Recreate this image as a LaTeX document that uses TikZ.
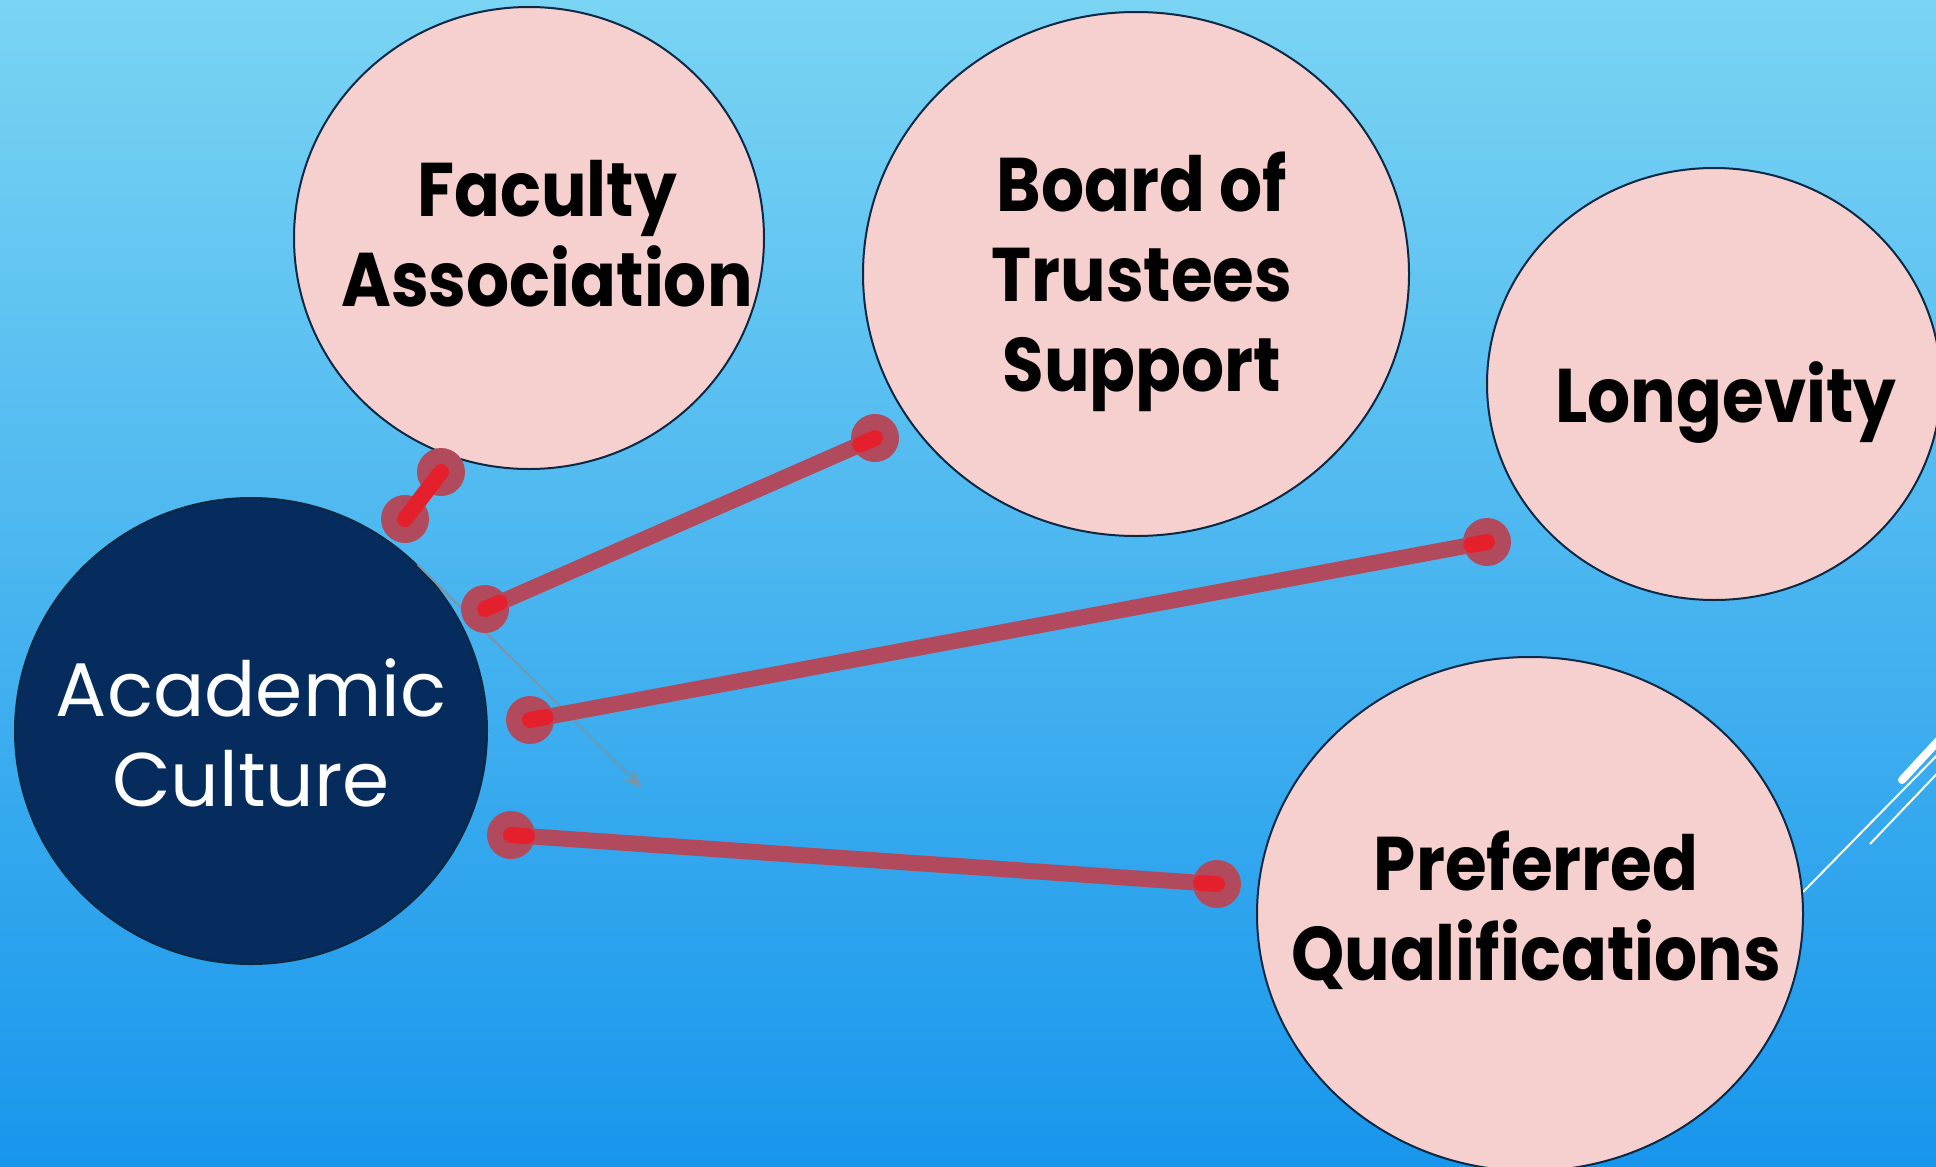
\documentclass[tikz,border=0pt]{standalone}
\usepackage{fontspec}
\setmainfont{Poppins}
\newfontfamily\bubblefont{Poppins}[FakeStretch=0.89]
\usetikzlibrary{shapes.geometric,calc,arrows.meta}

\definecolor{skytop}{RGB}{122,212,243}
\definecolor{skybottom}{RGB}{24,150,236}
\definecolor{blush}{RGB}{246,208,206}
\definecolor{navy}{RGB}{5,44,92}
\definecolor{rim}{RGB}{12,40,68}
\definecolor{linkrose}{RGB}{178,74,94}
\definecolor{linkred}{RGB}{228,32,45}
\definecolor{pointer}{RGB}{118,150,172}

\begin{document}
\begin{tikzpicture}[
  x=1pt, y=-1pt,
  bubble/.style={ellipse, draw=rim, line width=2pt, fill=blush, inner sep=0pt},
  hub/.style={bubble, fill=navy},
  bubbletext/.style={font=\bubblefont\bfseries\fontsize{76}{90}\selectfont, align=center, text=black},
  hubtext/.style={font=\fontsize{76}{90}\selectfont, align=center, text=white},
  linkend/.style={circle, fill=linkrose, minimum size=48pt, inner sep=0pt},
  link/.style={draw=linkrose, line width=16pt, line cap=round},
  linkhot/.style={draw=linkred, line width=16pt, line cap=round}
  ]

% background
\useasboundingbox (0,0) rectangle (1936,1167);
\shade[top color=skytop, bottom color=skybottom] (0,0) rectangle (1936,1167);

% slide ornament
\draw[white, line width=8pt, line cap=round] (1902,780) -- (1950,728);
\draw[white, line width=2pt] (1803,892) -- (1950,742);
\draw[white, line width=2pt] (1870,844) -- (1950,760);

% bubbles
\node[hub, minimum width=472pt, minimum height=466pt] (ac) at (251,731) {};
\node[bubble, minimum width=470pt, minimum height=462pt] (fa) at (529,238) {};
\node[bubble, minimum width=546pt, minimum height=524pt] (bt) at (1136,274) {};
\node[bubble, minimum width=454pt, minimum height=432pt] (lg) at (1714,384) {};
\node[bubble, minimum width=546pt, minimum height=514pt] (pq) at (1530,914) {};

\node[hubtext] (ac-text) at (251,733) {Academic\\Culture};
\node[bubbletext] (fa-text) at (547,234) {Faculty\\Association};
\node[bubbletext] (bt-text) at (1142,282) {Board of\\Trustees\\Support};
\node[bubbletext] (lg-text) at (1726,403) {Longevity};
\node[bubbletext] (pq-text) at (1536,910) {Preferred\\Qualifications};

% pointer out of the hub
\coordinate (ac-tip) at (642,788);
\draw[pointer, line width=2pt, -{Stealth[length=20pt,width=16pt]}] (ac.45) -- (ac-tip);

% links
\node[linkend] (l1a) at (405,519) {};
\node[linkend] (l1b) at (441,472) {};
\node[linkend] (l2a) at (485,609) {};
\node[linkend] (l2b) at (875,438) {};
\node[linkend] (l3a) at (530,720) {};
\node[linkend] (l3b) at (1487,542) {};
\node[linkend] (l4a) at (511,835) {};
\node[linkend] (l4b) at (1217,884) {};

\draw[link] (l1a.center) -- (l1b.center);
\draw[link] (l2a.center) -- (l2b.center);
\draw[link] (l3a.center) -- (l3b.center);
\draw[link] (l4a.center) -- (l4b.center);

\draw[linkhot] (l1a.center) -- (l1b.center);
\foreach \a/\b in {l2a/l2b, l3a/l3b, l4a/l4b} {
  \draw[linkhot] (\a.center) -- ($(\a.center)!16pt!(\b.center)$);
  \draw[linkhot] (\b.center) -- ($(\b.center)!16pt!(\a.center)$);
}
\end{tikzpicture}
\end{document}
